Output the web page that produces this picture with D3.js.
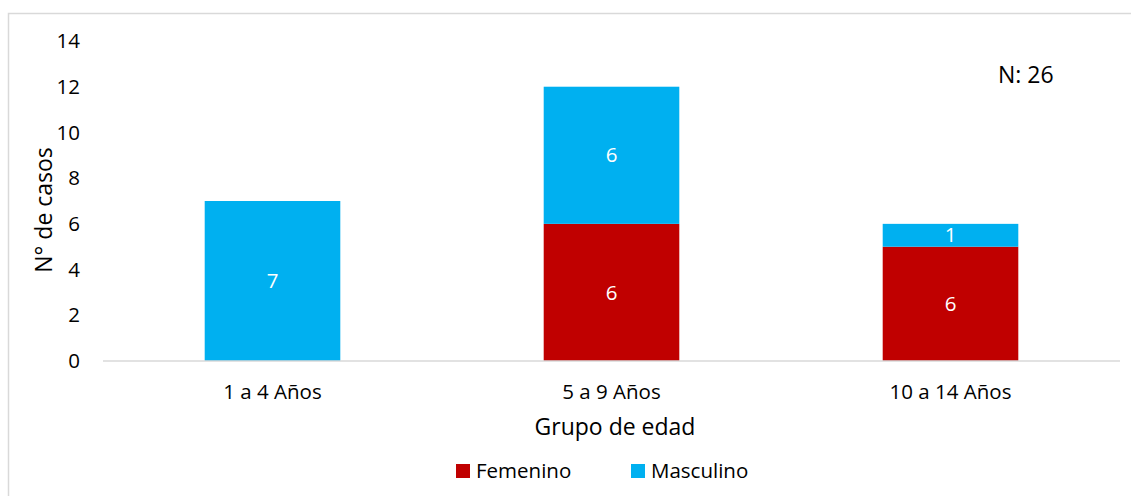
<!DOCTYPE html>
<html><head><meta charset="utf-8">
<script src="https://cdn.jsdelivr.net/npm/d3@7"></script>
<style>body{margin:0;background:#fff}svg{display:block;font-family:"Open Sans",Lato,sans-serif}</style>
</head><body><svg id="c" width="1131" height="496"></svg>
<script>
const categories = ["1 a 4 Años", "5 a 9 Años", "10 a 14 Años"];
const femenino = [0, 6, 5];
const masculino = [7, 6, 1];
const femeninoLabels = ["", "6", "6"];
const masculinoLabels = ["7", "6", "1"];
const yTicks = [0, 2, 4, 6, 8, 10, 12, 14];
const seriesNames = ["Femenino", "Masculino"];
const colors = ["#C00000", "#00B0F0"];

const svg = d3.select("#c");
svg.append("rect").attr("x", 8.5).attr("y", 13.5).attr("width", 1140).attr("height", 500)
  .attr("fill", "none").attr("stroke", "#d9d9d9").attr("stroke-width", 1.5);

const x = d3.scaleBand().domain(categories).range([103, 1120]).padding(0);
const y = d3.scaleLinear().domain([0, 14]).range([361, 41]);
const bw = x.bandwidth() * 0.4;

const rows = categories.map((c, i) => ({cat: c, Femenino: femenino[i], Masculino: masculino[i], i}));
const stack = d3.stack().keys(seriesNames)(rows);
const labels = [femeninoLabels, masculinoLabels];

stack.forEach((s, si) => {
  const g = svg.append("g");
  s.forEach((d, i) => {
    if (d[1] - d[0] <= 0) return;
    const cx = x(categories[i]) + x.bandwidth() / 2;
    g.append("rect").attr("x", cx - bw / 2).attr("y", y(d[1])).attr("width", bw)
      .attr("height", y(d[0]) - y(d[1])).attr("fill", colors[si]);
    g.append("text").attr("x", cx).attr("y", (y(d[0]) + y(d[1])) / 2).attr("dy", "0.35em")
      .attr("text-anchor", "middle").attr("fill", "#fff").attr("font-size", 20.5)
      .text(labels[si][i]);
  });
});

// baseline
svg.append("line").attr("x1", 103).attr("x2", 1120).attr("y1", y(0)).attr("y2", y(0))
  .attr("stroke", "#d9d9d9").attr("stroke-width", 1.5);

// y tick labels
svg.append("g").selectAll("text").data(yTicks).join("text")
  .attr("x", 80).attr("y", d => y(d)).attr("dy", "0.35em").attr("text-anchor", "end")
  .attr("font-size", 20.5).attr("fill", "#000").text(d => d);

// x tick labels
svg.append("g").selectAll("text").data(categories).join("text")
  .attr("x", d => x(d) + x.bandwidth() / 2).attr("y", 392).attr("dy", "0.35em")
  .attr("text-anchor", "middle").attr("font-size", 20.5).attr("fill", "#000").text(d => d);

// axis titles
svg.append("text").attr("x", 615).attr("y", 427).attr("dy", "0.35em").attr("text-anchor", "middle")
  .attr("font-size", 23).text("Grupo de edad");
svg.append("text").attr("transform", "translate(44,210) rotate(-90)").attr("dy", "0.35em")
  .attr("text-anchor", "middle").attr("font-size", 23).text("N° de casos");

// N annotation
svg.append("text").attr("x", 998).attr("y", 75).attr("dy", "0.35em").attr("font-size", 23).text("N: 26");

// legend
const legX = [456, 631];
seriesNames.forEach((n, i) => {
  svg.append("rect").attr("x", legX[i]).attr("y", 464).attr("width", 14).attr("height", 14).attr("fill", colors[i]);
  svg.append("text").attr("x", legX[i] + 20).attr("y", 471).attr("dy", "0.35em").attr("font-size", 20.5).text(n);
});
</script></body></html>
